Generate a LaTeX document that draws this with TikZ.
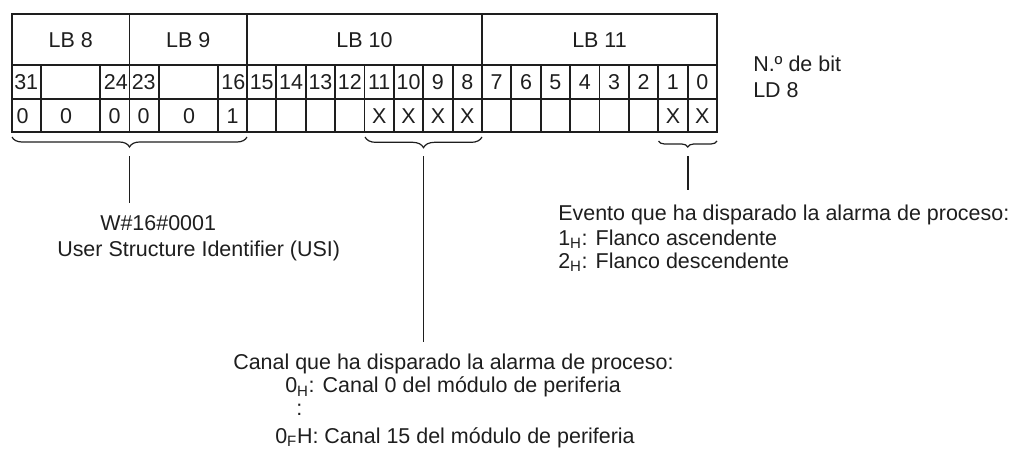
\documentclass[tikz,border=0pt]{standalone}
\usepackage{fontspec}
\setmainfont{Liberation Sans}
\usetikzlibrary{decorations.pathreplacing}
\definecolor{ink}{HTML}{1E1E1E}
\begin{document}
\begin{tikzpicture}[x=0.75pt,y=-0.75pt,
  font=\fontsize{16.1}{19.3}\selectfont,
  tbl/.style={line width=1.4pt, draw=ink},
  lbl/.style={inner sep=0pt, text depth=0pt, text height=11.5pt, text=ink},
  txt/.style={lbl, anchor=west},
  brc/.style={draw=ink, line width=0.9pt, decorate},
  conn/.style={draw=ink, line width=1.2pt}]
\useasboundingbox (0,0) rectangle (1014,450);
% table frame
\draw[tbl] (12,14) rectangle (717,132);
\draw[tbl] (12,65) -- (717,65);
\draw[tbl] (12,99) -- (717,99);
\foreach \x in {129.5,247,482} \draw[tbl] (\x,14) -- (\x,132);
\foreach \x in {41.4,100.1,158.9,217.6} \draw[tbl] (\x,65) -- (\x,132);
\foreach \k in {1,...,15} \draw[tbl] ({247+\k*29.375},65) -- ({247+\k*29.375},132);
% byte labels
\node[lbl] (lb8) at (70.75,40) {LB 8};
\node[lbl] (lb9) at (188.25,40) {LB 9};
\node[lbl] (lb10) at (364.5,40) {LB 10};
\node[lbl] (lb11) at (599.5,40) {LB 11};
% bit numbers
\node[lbl, anchor=west] (n31) at (14,82) {31};
\node[lbl, anchor=east] (n24) at (128,82) {24};
\node[lbl, anchor=west] (n23) at (131.5,82) {23};
\node[lbl, anchor=east] (n16) at (245.5,82) {16};
\foreach \k in {0,...,15}{
  \pgfmathtruncatemacro{\b}{15-\k}
  \node[lbl] (n\b) at ({247+(\k+0.5)*29.375},82) {\b};
}
% values
\node[lbl] (v31) at (22.5,115.5) {0};
\node[lbl] (v30) at (66,115.5) {0};
\node[lbl] (v24) at (114.5,115.5) {0};
\node[lbl] (v23) at (143.7,115.5) {0};
\node[lbl] (v22) at (189,115.5) {0};
\node[lbl] (v16) at (232.5,115.5) {1};
\foreach \k in {4,5,6,7,14,15}{
  \pgfmathtruncatemacro{\b}{15-\k}
  \node[lbl] (v\b) at ({247+(\k+0.5)*29.375},115.5) {X};
}
% right-hand captions
\node[txt] (nbit) at (753,63.5) {N.º de bit};
\node[txt] (ld8) at (753,89.5) {LD 8};
% braces
\draw[brc, decoration={brace, mirror, amplitude=7.5pt}] (12,137) -- (247,137);
\draw[brc, decoration={brace, mirror, amplitude=8pt}] (365,137) -- (482,137);
\draw[brc, decoration={brace, mirror, amplitude=4.5pt}] (658.5,141) -- (717,141);
% connectors
\coordinate (t1) at (129.5,156);
\coordinate (e1) at (129.5,203);
\coordinate (t2) at (423.5,156);
\coordinate (e2) at (423.5,342);
\coordinate (t3) at (688,156);
\coordinate (e3) at (688,190);
\draw[conn] (t1) -- (e1);
\draw[conn] (t2) -- (e2);
\draw[conn] (t3) -- (e3);
% USI text
\node[txt] (usi1) at (100,223) {W\#16\#0001};
\node[txt] (usi2) at (57,249) {User Structure Identifier (USI)};
% event text
\node[txt] (ev1) at (558,212.5) {Evento que ha disparado la alarma de proceso:};
\node[txt] (ev2) at (558,237.5) {1\textsubscript{H}: Flanco ascendente};
\node[txt] (ev3) at (558,260.5) {2\textsubscript{H}: Flanco descendente};
% channel text
\node[txt] (ch1) at (233,362) {Canal que ha disparado la alarma de proceso:};
\node[txt] (ch2) at (285,385) {0\textsubscript{H}: Canal 0 del módulo de periferia};
\node[txt] (ch3) at (296,408) {:};
\node[txt] (ch4) at (275,435.5) {0\textsubscript{F}H: Canal 15 del módulo de periferia};
\end{tikzpicture}
\end{document}
